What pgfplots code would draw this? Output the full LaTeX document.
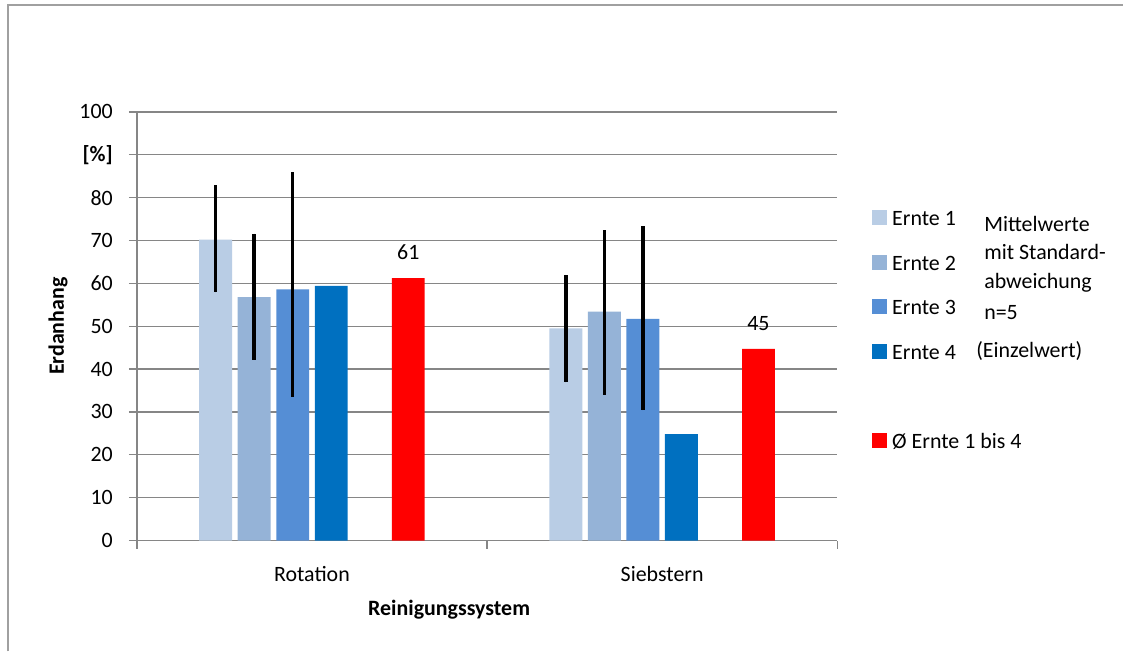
\documentclass[border=0pt]{standalone}
\usepackage{pgfplots}
\pgfplotsset{compat=1.18}
\usepackage{fontspec}
\setmainfont{Carlito}
\definecolor{eA}{RGB}{185,205,229}
\definecolor{eB}{RGB}{149,179,215}
\definecolor{eC}{RGB}{85,142,213}
\definecolor{eD}{RGB}{0,112,192}
\definecolor{gridgray}{RGB}{134,134,134}
\definecolor{framegray}{RGB}{160,160,160}
\newcommand\fs{\fontsize{22}{26}\selectfont}
\pgfplotsset{sqleg/.style={legend image code/.code={\fill[##1,draw=none] (0bp,-7bp) rectangle (15bp,8bp);}}}
\begin{document}
\begin{tikzpicture}
\fill[white] (0bp,0bp) rectangle (1124bp,652bp);
\draw[framegray, line width=2bp] (8.5bp,0bp) -- (8.5bp,647bp) -- (1124bp,647bp);
\begin{axis}[
  at={(137bp,111bp)}, anchor=south west,
  scale only axis, width=701bp, height=429bp,
  xmin=-0.5, xmax=1.5, ymin=0, ymax=100,
  axis x line*=bottom, axis y line*=left,
  axis line style={gridgray, line width=1.3bp},
  ybar, bar width=0.094,
  /pgf/number format/assume math mode=true,
  ytick={0,10,...,100},
  yticklabels={0,10,20,30,40,50,60,70,80,\textbf{[\%]},100},
  ymajorgrids, major grid style={gridgray, line width=1.3bp},
  xtick={-0.5,0.5,1.5}, xticklabels={},
  extra x ticks={0,1}, extra x tick labels={Rotation,Siebstern},
  extra x tick style={major tick length=0pt, xticklabel style={anchor=base, yshift=-41bp}},
  tick align=outside, major tick length=8bp,
  tick style={gridgray, line width=1.3bp},
  tick label style={font=\fs, black},
  yticklabel style={anchor=east, inner sep=0pt, xshift=-16bp},
  ylabel={Erdanhang}, xlabel={Reinigungssystem},
  label style={font=\fs\bfseries},
  ylabel style={at={(axis description cs:-0.1127,0.5)}, anchor=center},
  xlabel style={at={(axis description cs:0.4458,-0.1608)}, anchor=center},
  legend style={draw=none, fill=none, at={(axis description cs:1.0499,0.7704)}, anchor=north west,
    inner sep=0pt, outer sep=0pt, font=\fs, row sep=29.1bp, column sep=5bp,
    nodes={inner sep=0pt, text height=15bp, text depth=0bp}},
  legend cell align=left,
  clip=false,
]
\addplot[fill=eA, draw=none, bar shift=-0.275, sqleg,
  error bars/.cd, y dir=both, y explicit, error mark=none, error bar style={line width=3.5bp, black}]
  coordinates {(0,70.2) += (0,12.7) -= (0,12.3) (1,49.5) += (0,12.5) -= (0,12.6)};
\addlegendentry{Ernte 1}
\addplot[fill=eB, draw=none, bar shift=-0.165, sqleg,
  error bars/.cd, y dir=both, y explicit, error mark=none, error bar style={line width=3.5bp, black}]
  coordinates {(0,56.8) += (0,14.8) -= (0,14.6) (1,53.4) += (0,19.0) -= (0,19.4)};
\addlegendentry{Ernte 2}
\addplot[fill=eC, draw=none, bar shift=-0.055, sqleg,
  error bars/.cd, y dir=both, y explicit, error mark=none, error bar style={line width=3.5bp, black}]
  coordinates {(0,58.6) += (0,27.3) -= (0,25.1) (1,51.7) += (0,21.6) -= (0,21.3)};
\addlegendentry{Ernte 3}
\addplot[fill=eD, draw=none, bar shift=0.055, sqleg]
  coordinates {(0,59.4) (1,24.8)};
\addlegendentry{Ernte 4}
\addlegendimage{empty legend}
\addlegendentry{}
\addplot[fill=red, draw=none, bar shift=0.275, sqleg,
  nodes near coords={\pgfmathprintnumber[fixed,precision=0]{\pgfplotspointmeta}},
  nodes near coords style={anchor=base, yshift=18.7bp, font=\fs, black}]
  coordinates {(0,61.2) (1,44.7)};
\addlegendentry{Ø Ernte 1 bis 4}
\end{axis}
\node[font=\fs, anchor=base west, inner sep=0pt] at (985bp,420.3bp) {Mittelwerte};
\node[font=\fs, anchor=base west, inner sep=0pt] at (985bp,392bp) {mit Standard-};
\node[font=\fs, anchor=base west, inner sep=0pt] at (985bp,363.7bp) {abweichung};
\node[font=\fs, anchor=base west, inner sep=0pt] at (985bp,332bp) {n=5};
\node[font=\fs, anchor=base west, inner sep=0pt] at (977bp,294bp) {(Einzelwert)};
\end{tikzpicture}
\end{document}
